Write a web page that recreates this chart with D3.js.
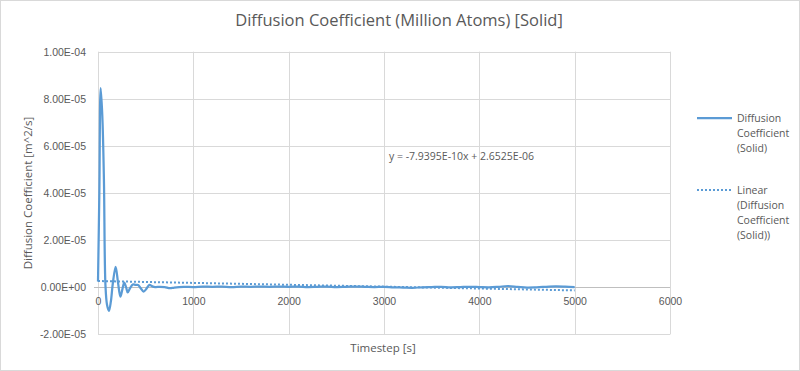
<!DOCTYPE html>
<html>
<head>
<meta charset="utf-8">
<script src="https://cdn.jsdelivr.net/npm/d3@7"></script>
<style>
  body { margin: 0; background: #fff; }
  svg { display: block; font-family: "Open Sans", "Noto Sans", sans-serif; }
  .axis text { fill: #595959; font-size: 10.5px; }
  .axis .domain { display: none; }
</style>
</head>
<body>
<div id="chart"></div>
<script>
const xTicks = [0, 1000, 2000, 3000, 4000, 5000, 6000];
const yTicks = [-2e-5, 0, 2e-5, 4e-5, 6e-5, 8e-5, 1e-4];

// timestep values of the diffusion series
const timesteps = [
  0, 14, 28, 45, 62, 78, 95, 115, 135, 155, 185, 210, 235, 255, 275, 295,
  312, 335, 365, 395, 420, 450, 478, 510, 540, 570, 600, 650, 700, 755, 800,
  900, 1000, 1100, 1200, 1300, 1400, 1500, 1600, 1700, 1800, 1900, 2000,
  2100, 2200, 2300, 2400, 2500, 2600, 2700, 2800, 2900, 3000, 3100, 3200,
  3300, 3400, 3500, 3600, 3700, 3800, 3900, 4000, 4100, 4200, 4300, 4400,
  4500, 4600, 4700, 4800, 4900, 5000
];
const diffusion = [
  2.4e-6, 4.0e-5, 8.45e-5, 7.3e-5, 4.6e-5, 1.0e-6, -7.5e-6, -1.0e-5, -6.0e-6,
  1.5e-6, 8.7e-6, 2.0e-6, -4.0e-6, -1.0e-6, 2.0e-6, 0, -2.2e-6, -0.5e-6,
  1.2e-6, 1.0e-6, 1.0e-6, -0.5e-6, -1.8e-6, -0.5e-6, 1.0e-6, 0.4e-6, 0.1e-6,
  0.2e-6, 0.1e-6, -0.4e-6, -0.1e-6,
  0.2e-6, 0.1e-6, 0.3e-6, 0.2e-6, 0.3e-6, 0.1e-6, 0.3e-6, 0.2e-6, 0.3e-6,
  0.2e-6, 0.3e-6, 0.2e-6, 0.3e-6, 0.1e-6, 0.2e-6, 0.3e-6, 0.1e-6, 0.2e-6,
  0.3e-6, 0.2e-6, 0.1e-6, 0.2e-6, 0.0, -0.1e-6, -0.2e-6, 0.0, 0.1e-6,
  0.2e-6, 0.0, 0.1e-6, 0.2e-6, 0.1e-6, 0.0, 0.2e-6, 0.5e-6, 0.2e-6,
  -0.1e-6, 0.0, 0.2e-6, 0.4e-6, 0.3e-6, 0.1e-6
];

// linear trendline shown by the chart
const trendSlope = -7.9395e-10;
const trendIntercept = 2.6525e-6;
const trendLabel = "y = -7.9395E-10x + 2.6525E-06";

const legendSeries = ["Diffusion", "Coefficient", "(Solid)"];
const legendTrend = ["Linear", "(Diffusion", "Coefficient", "(Solid))"];

const W = 800, H = 371;
const blue = "#5b9bd5";
const grid = "#d9d9d9";
const textCol = "#595959";

const svg = d3.select("#chart").append("svg")
  .attr("width", W).attr("height", H);

svg.append("rect")
  .attr("x", 0.5).attr("y", 0.5)
  .attr("width", W - 1).attr("height", H - 1)
  .attr("fill", "#fff").attr("stroke", grid);

const x = d3.scaleLinear().domain([0, 6000]).range([98, 670]);
const y = d3.scaleLinear().domain([-2e-5, 1e-4]).range([334.4, 51.7]);

// gridlines
svg.append("g").selectAll("line.h")
  .data(yTicks.filter(d => d !== 0))
  .join("line")
  .attr("x1", x(0)).attr("x2", x(6000))
  .attr("y1", d => Math.round(y(d)) + 0.5).attr("y2", d => Math.round(y(d)) + 0.5)
  .attr("stroke", grid).attr("stroke-width", 1);

svg.append("g").selectAll("line.v")
  .data(xTicks)
  .join("line")
  .attr("x1", d => Math.round(x(d)) + 0.5).attr("x2", d => Math.round(x(d)) + 0.5)
  .attr("y1", y(1e-4)).attr("y2", y(-2e-5))
  .attr("stroke", grid).attr("stroke-width", 1);

// zero axis line
const y0 = Math.round(y(0)) + 0.5;
svg.append("line")
  .attr("x1", x(0) - 4).attr("x2", x(6000))
  .attr("y1", y0).attr("y2", y0)
  .attr("stroke", "#bfbfbf").attr("stroke-width", 1);

// y axis labels
const yAxis = d3.axisLeft(y)
  .tickValues(yTicks)
  .tickSize(0)
  .tickPadding(0)
  .tickFormat(d => {
    const s = d.toExponential(2).toUpperCase();
    return s.replace(/E([+-])(\d)$/, "E$10$2");
  });
svg.append("g").attr("class", "axis")
  .attr("transform", "translate(86,0)")
  .call(yAxis);

// x axis labels just below the zero line
const xAxis = d3.axisBottom(x)
  .tickValues(xTicks)
  .tickSize(0)
  .tickPadding(10)
  .tickFormat(d3.format("d"));
svg.append("g").attr("class", "axis")
  .attr("transform", `translate(0,${y(0)})`)
  .call(xAxis);

// trendline
svg.append("line")
  .attr("x1", x(0)).attr("x2", x(5000))
  .attr("y1", y(trendIntercept)).attr("y2", y(trendIntercept + trendSlope * 5000))
  .attr("stroke", blue).attr("stroke-width", 2)
  .attr("stroke-dasharray", "2,2");

// series line
const pts = timesteps.map((t, i) => [t, diffusion[i]]);
const line = d3.line()
  .x(d => x(d[0]))
  .y(d => y(d[1]))
  .curve(d3.curveCatmullRom.alpha(0.5));
svg.append("path")
  .datum(pts)
  .attr("d", line)
  .attr("fill", "none")
  .attr("stroke", blue)
  .attr("stroke-width", 2.25)
  .attr("stroke-linejoin", "round");

// title
svg.append("text")
  .attr("x", 399).attr("y", 26)
  .attr("text-anchor", "middle")
  .attr("fill", textCol)
  .style("font-size", "16.5px")
  .text("Diffusion Coefficient (Million Atoms) [Solid]");

// axis titles
svg.append("text")
  .attr("x", 383).attr("y", 352)
  .attr("text-anchor", "middle")
  .attr("fill", textCol)
  .style("font-size", "11.5px")
  .text("Timestep [s]");

svg.append("text")
  .attr("transform", "translate(32,193) rotate(-90)")
  .attr("text-anchor", "middle")
  .attr("fill", textCol)
  .style("font-size", "11.5px")
  .text("Diffusion Coefficient [m^2/s]");

// trend equation
svg.append("text")
  .attr("x", 389).attr("y", 160)
  .attr("fill", textCol)
  .style("font-size", "10.5px")
  .text(trendLabel);

// legend
const lg = svg.append("g").style("font-size", "10.5px").attr("fill", textCol);
lg.append("line")
  .attr("x1", 697).attr("x2", 732).attr("y1", 118).attr("y2", 118)
  .attr("stroke", blue).attr("stroke-width", 2.25);
lg.selectAll("text.s").data(legendSeries).join("text")
  .attr("x", 737).attr("y", (d, i) => 122 + i * 15)
  .text(d => d);
lg.append("line")
  .attr("x1", 697).attr("x2", 732).attr("y1", 190).attr("y2", 190)
  .attr("stroke", blue).attr("stroke-width", 2).attr("stroke-dasharray", "2,2");
lg.selectAll("text.t").data(legendTrend).join("text")
  .attr("x", 737).attr("y", (d, i) => 194 + i * 15)
  .text(d => d);
</script>
</body>
</html>
